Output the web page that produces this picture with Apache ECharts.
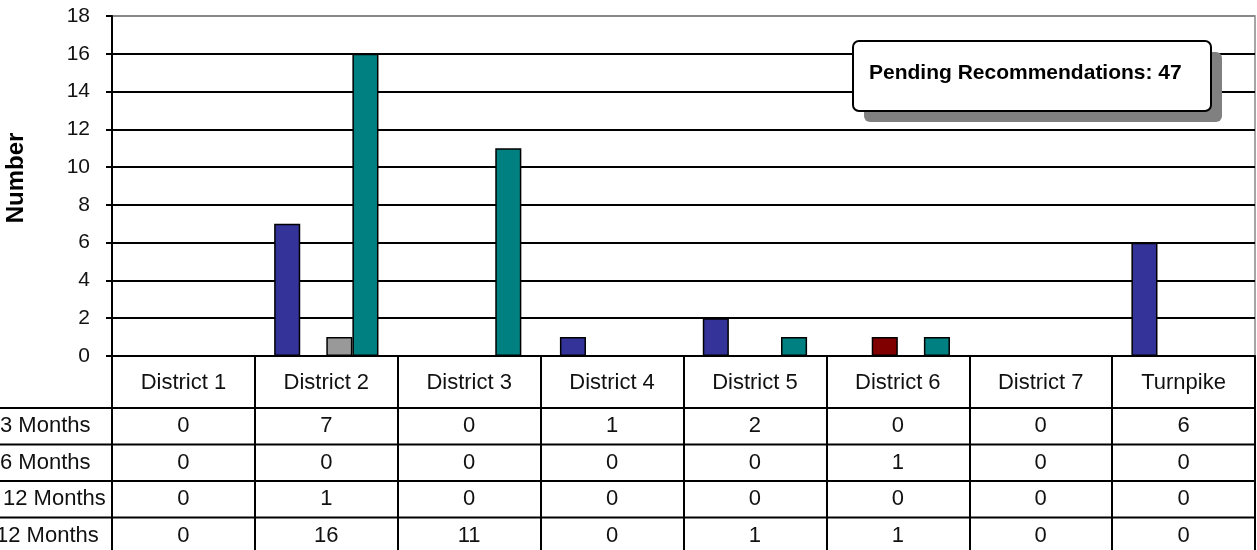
<!DOCTYPE html>
<html><head><meta charset="utf-8">
<script src="https://cdn.jsdelivr.net/npm/echarts@6/dist/echarts.min.js"></script>
<style>html,body{margin:0;padding:0;background:#fff}#c{width:1257px;height:550px}</style>
</head><body><div id="c"></div>
<script>
const categories = ['District 1','District 2','District 3','District 4','District 5','District 6','District 7','Turnpike'];
const rowLabels = ['3 Months','6 Months','12 Months','12 Months'];
const months3 = [0,7,0,1,2,0,0,6];
const months6 = [0,0,0,0,0,1,0,0];
const months12 = [0,1,0,0,0,0,0,0];
const over12 = [0,16,11,0,1,1,0,0];
const seriesData = [months3, months6, months12, over12];
const seriesColors = ['#333399','#800000','#999999','#008080'];
const yMin = 0, yMax = 18, yInterval = 2;
const boxText = 'Pending Recommendations: 47';
const axisTitle = 'Number';

const FONT = "'Liberation Sans', Arial, sans-serif";
const chart = echarts.init(document.getElementById('c'), null, {renderer:'canvas'});

const gridLeft = 112, gridTop = 16, gridRight = 2, gridBottom = 194;
const H = 550, W = 1257;
const axisY = H - gridBottom;          // 356
const headerH = 52;
const rowH = 36.5;
const rowLabelX = [0, 0, 3, -4];

const nSplit = (yMax - yMin) / yInterval + 1;
const splitColors = [];
for (let i = 0; i < nSplit; i++) splitColors.push(i === nSplit - 1 ? '#888' : '#000');

const option = {
  animation: false,
  backgroundColor: '#fff',
  grid: {left: gridLeft, top: gridTop, right: gridRight, bottom: gridBottom,
         show: true, borderColor: '#888', borderWidth: 1.5, backgroundColor: '#fff'},
  xAxis: {
    type: 'category', data: categories, boundaryGap: true,
    axisLine: {lineStyle: {color: '#000', width: 2}},
    axisTick: {show: true, interval: 0, length: gridBottom, lineStyle: {color: '#000', width: 2}},
    axisLabel: {interval: 0, margin: 16, color: '#111', fontSize: 22, fontFamily: FONT},
    splitLine: {show: false}
  },
  yAxis: {
    type: 'value', min: yMin, max: yMax, interval: yInterval,
    axisLine: {show: true, lineStyle: {color: '#000', width: 2}},
    axisTick: {show: true, length: 6, lineStyle: {color: '#000', width: 2}},
    axisLabel: {margin: 22, color: '#111', fontSize: 21, fontFamily: FONT},
    splitLine: {show: true, lineStyle: {color: splitColors, width: 2}}
  },
  series: seriesData.map((d, i) => ({
    type: 'bar', name: rowLabels[i], data: d,
    barGap: '0%', barCategoryGap: '27%',
    itemStyle: {color: seriesColors[i], borderColor: '#000', borderWidth: 1.5}
  }))
};
chart.setOption(option);

function buildGraphics() {
  const els = [];
  // y axis title
  els.push({type: 'text', x: 16, y: 178, rotation: Math.PI / 2,
    style: {text: axisTitle, font: 'bold 24px ' + FONT, fill: '#000', align: 'center', verticalAlign: 'middle'}});
  // table horizontal lines and row labels
  for (let r = 0; r < rowLabels.length; r++) {
    const top = axisY + headerH + r * rowH;
    els.push({type: 'line', shape: {x1: 0, y1: top, x2: W - gridRight, y2: top},
      style: {stroke: '#000', lineWidth: 2}, z: 10});
    const cy = top + rowH / 2;
    els.push({type: 'text', x: rowLabelX[r], y: cy,
      style: {text: rowLabels[r], font: '22px ' + FONT, fill: '#111', align: 'left', verticalAlign: 'middle'}});
    seriesData[r].forEach((v, ci) => {
      const px = chart.convertToPixel({xAxisIndex: 0}, categories[ci]);
      els.push({type: 'text', x: px, y: cy,
        style: {text: String(v), font: '22px ' + FONT, fill: '#111', align: 'center', verticalAlign: 'middle'}});
    });
  }
  // pending box
  els.push({type: 'rect', shape: {x: 864, y: 52, width: 358, height: 70, r: 6},
    style: {fill: '#808080'}, z: 20});
  els.push({type: 'rect', shape: {x: 853, y: 41, width: 358, height: 70, r: 6},
    style: {fill: '#fff', stroke: '#000', lineWidth: 2}, z: 21});
  els.push({type: 'text', x: 869, y: 73, z: 22,
    style: {text: boxText, font: 'bold 21px ' + FONT, fill: '#000', align: 'left', verticalAlign: 'middle'}});
  chart.setOption({graphic: els});
}
buildGraphics();
</script>
</body></html>
